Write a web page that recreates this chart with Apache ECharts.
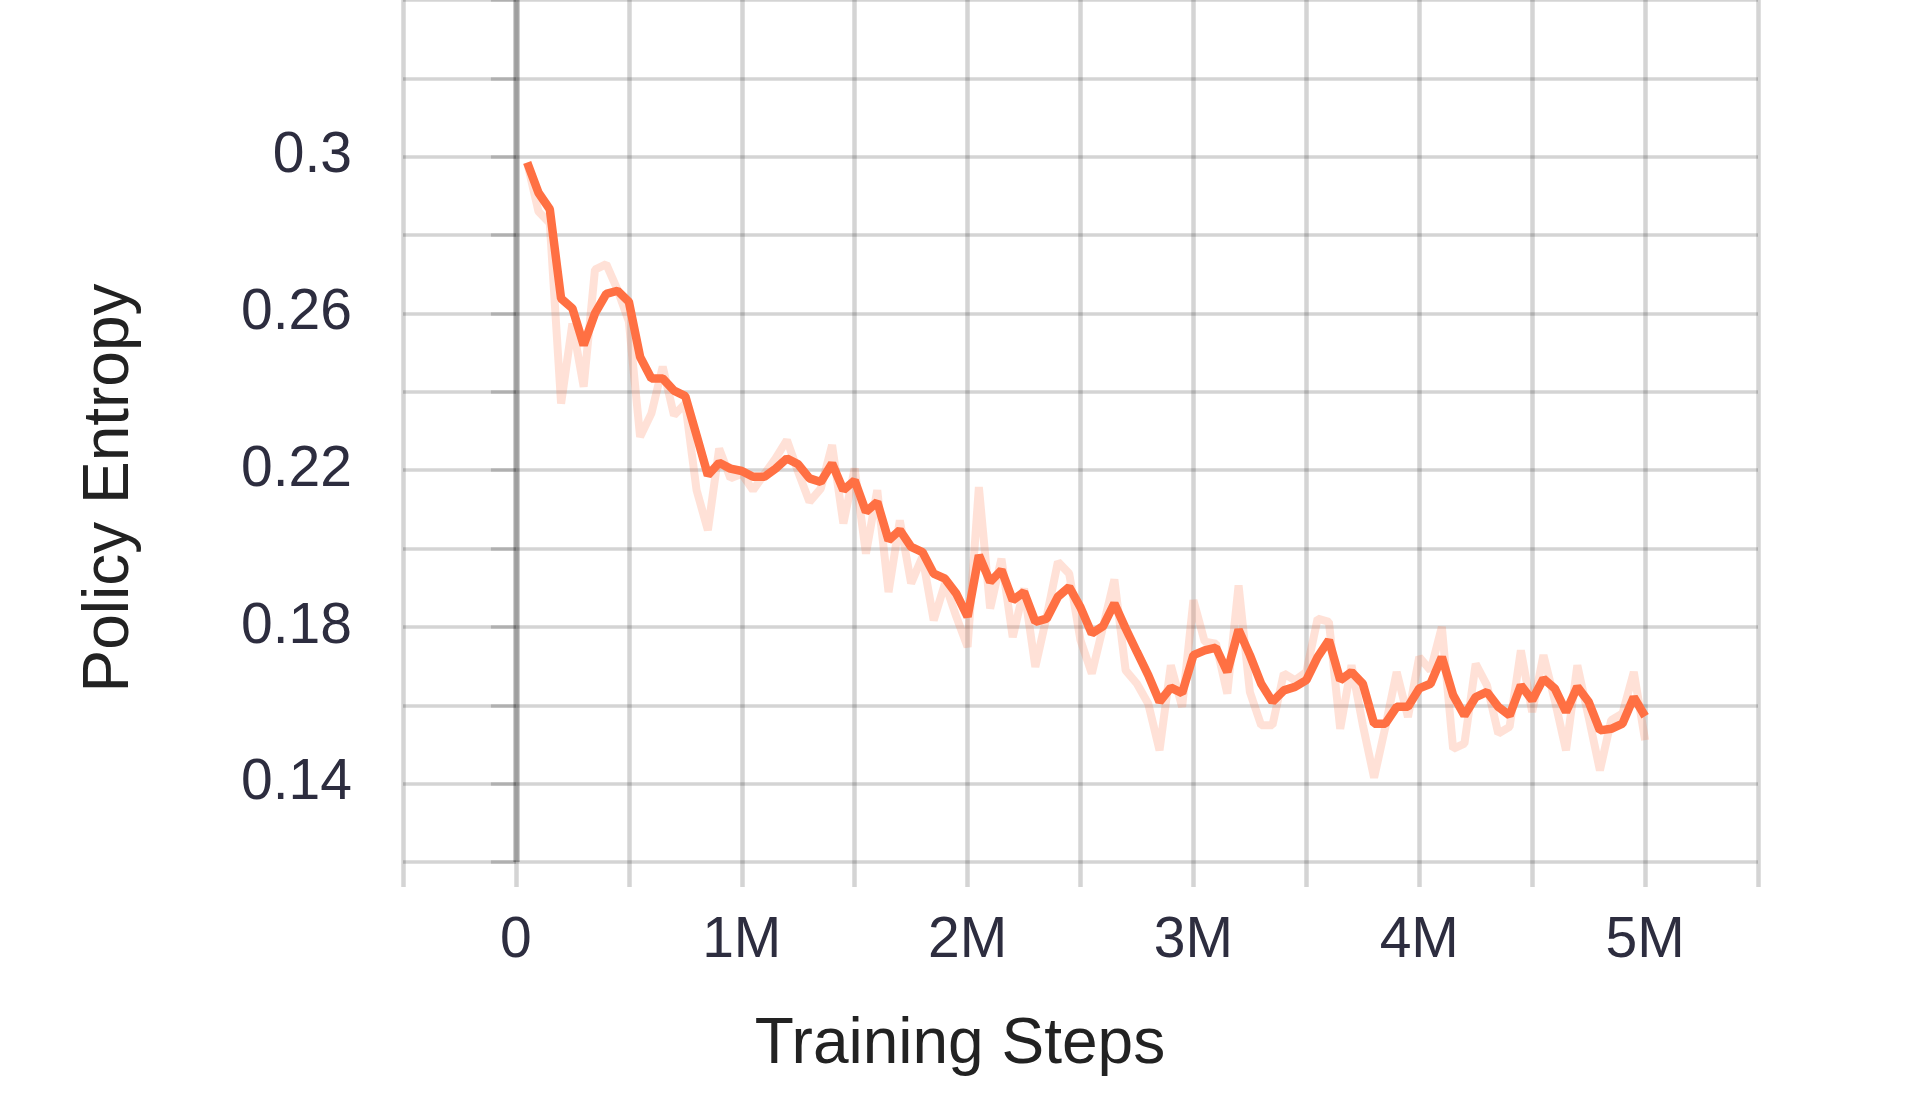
<!DOCTYPE html>
<html>
<head>
<meta charset="utf-8">
<script src="https://cdn.jsdelivr.net/npm/echarts@6/dist/echarts.min.js"></script>
<style>
  html, body { margin: 0; padding: 0; background: #ffffff; }
  #chart { width: 1920px; height: 1120px; }
</style>
</head>
<body>
<div id="chart"></div>
<script>
// Training steps (in millions)
const steps = [
  0.05, 0.10, 0.15, 0.20, 0.25, 0.30, 0.35, 0.40, 0.45, 0.50,
  0.55, 0.60, 0.65, 0.70, 0.75, 0.80, 0.85, 0.90, 0.95, 1.00,
  1.05, 1.10, 1.15, 1.20, 1.25, 1.30, 1.35, 1.40, 1.45, 1.50,
  1.55, 1.60, 1.65, 1.70, 1.75, 1.80, 1.85, 1.90, 1.95, 2.00,
  2.05, 2.10, 2.15, 2.20, 2.25, 2.30, 2.35, 2.40, 2.45, 2.50,
  2.55, 2.60, 2.65, 2.70, 2.75, 2.80, 2.85, 2.90, 2.95, 3.00,
  3.05, 3.10, 3.15, 3.20, 3.25, 3.30, 3.35, 3.40, 3.45, 3.50,
  3.55, 3.60, 3.65, 3.70, 3.75, 3.80, 3.85, 3.90, 3.95, 4.00,
  4.05, 4.10, 4.15, 4.20, 4.25, 4.30, 4.35, 4.40, 4.45, 4.50,
  4.55, 4.60, 4.65, 4.70, 4.75, 4.80, 4.85, 4.90, 4.95, 5.00
];

// Raw policy entropy (faint line)
const rawEntropy = [
  0.2985, 0.2860, 0.2830, 0.2370, 0.2574, 0.2413, 0.2712, 0.2726, 0.2660, 0.2580,
  0.2285, 0.2345, 0.2464, 0.2340, 0.2370, 0.2149, 0.2047, 0.2255, 0.2179, 0.2191,
  0.2149, 0.2190, 0.2230, 0.2277, 0.2195, 0.2119, 0.2153, 0.2264, 0.2064, 0.2204,
  0.1987, 0.2149, 0.1889, 0.2072, 0.1911, 0.1979, 0.1817, 0.1911, 0.1826, 0.1749,
  0.2157, 0.1847, 0.1974, 0.1774, 0.1898, 0.1698, 0.1826, 0.1966, 0.1936, 0.1766,
  0.1681, 0.1800, 0.1921, 0.1689, 0.1655, 0.1604, 0.1485, 0.1702, 0.1596, 0.1868,
  0.1762, 0.1757, 0.1630, 0.1906, 0.1634, 0.1549, 0.1549, 0.1681, 0.1664, 0.1685,
  0.1821, 0.1813, 0.1540, 0.1702, 0.1550, 0.1415, 0.1545, 0.1685, 0.1570, 0.1723,
  0.1689, 0.1800, 0.1489, 0.1502, 0.1706, 0.1651, 0.1528, 0.1545, 0.1740, 0.1583,
  0.1728, 0.1613, 0.1485, 0.1702, 0.1570, 0.1434, 0.1562, 0.1579, 0.1685, 0.1511
];

// Smoothed policy entropy (bold line)
const smoothEntropy = [
  0.2985, 0.2908, 0.2866, 0.2638, 0.2613, 0.2519, 0.2600, 0.2650, 0.2658, 0.2630,
  0.2489, 0.2434, 0.2434, 0.2403, 0.2389, 0.2289, 0.2187, 0.2219, 0.2204, 0.2198,
  0.2183, 0.2183, 0.2204, 0.2230, 0.2215, 0.2179, 0.2170, 0.2217, 0.2149, 0.2174,
  0.2094, 0.2119, 0.2021, 0.2047, 0.2004, 0.1991, 0.1936, 0.1923, 0.1885, 0.1826,
  0.1983, 0.1915, 0.1945, 0.1868, 0.1889, 0.1813, 0.1821, 0.1877, 0.1902, 0.1850,
  0.1783, 0.1802, 0.1860, 0.1796, 0.1736, 0.1677, 0.1609, 0.1645, 0.1631, 0.1728,
  0.1740, 0.1747, 0.1685, 0.1793, 0.1728, 0.1655, 0.1609, 0.1638, 0.1647, 0.1664,
  0.1723, 0.1766, 0.1664, 0.1685, 0.1655, 0.1553, 0.1553, 0.1596, 0.1596, 0.1643,
  0.1655, 0.1723, 0.1626, 0.1574, 0.1621, 0.1634, 0.1596, 0.1574, 0.1651, 0.1613,
  0.1668, 0.1643, 0.1583, 0.1647, 0.1609, 0.1536, 0.1540, 0.1553, 0.1621, 0.1572
];

// Tick labels
const xTickLabels = ['0', '1M', '2M', '3M', '4M', '5M'];
const yTickLabels = ['0.14', '0.18', '0.22', '0.26', '0.3'];

const xAxisTitle = 'Training Steps';
const yAxisTitle = 'Policy Entropy';

const FONT = '"Liberation Sans", Arial, Helvetica, sans-serif';
const ORANGE = '#FF7043';
const GRID_COLOR = 'rgba(0,0,0,0.17)';

const rawData = steps.map((s, i) => [s, rawEntropy[i]]);
const smoothData = steps.map((s, i) => [s, smoothEntropy[i]]);

const chart = echarts.init(document.getElementById('chart'), null, { renderer: 'canvas' });

chart.setOption({
  animation: false,
  backgroundColor: '#ffffff',
  grid: { left: 403, right: 162, top: 0, bottom: 258, containLabel: false },
  xAxis: {
    type: 'value',
    min: -0.5,
    max: 5.5,
    interval: 0.5,
    axisLine: { show: false },
    axisTick: { show: true, length: 25, lineStyle: { color: GRID_COLOR, width: 4.5 } },
    splitLine: { show: true, lineStyle: { color: GRID_COLOR, width: 4.5 } },
    axisLabel: {
      margin: 51,
      fontSize: 57,
      fontFamily: FONT,
      color: '#2d2d3f',
      formatter: function (v) {
        const r = Math.round(v * 2);
        if (r % 2 !== 0 || r < 0) return '';
        const lbl = xTickLabels[r / 2];
        return lbl === undefined ? '' : lbl;
      }
    }
  },
  yAxis: {
    type: 'value',
    min: 0.12,
    max: 0.34,
    interval: 0.02,
    axisLine: { show: false },
    axisTick: { show: true, length: 25, lineStyle: { color: GRID_COLOR, width: 3.5 } },
    splitLine: { show: true, lineStyle: { color: GRID_COLOR, width: 3.5 } },
    axisLabel: {
      margin: 51,
      fontSize: 57,
      fontFamily: FONT,
      color: '#2d2d3f',
      formatter: function (v) {
        const s = String(+v.toFixed(2));
        return yTickLabels.indexOf(s) >= 0 ? s : '';
      }
    }
  },
  graphic: [
    {
      type: 'text',
      x: 960, y: 1045,
      style: { text: xAxisTitle, fontSize: 64, fontFamily: FONT, fill: '#222222', align: 'center', verticalAlign: 'middle' }
    },
    {
      type: 'text',
      x: 110, y: 488,
      rotation: Math.PI / 2,
      style: { text: yAxisTitle, fontSize: 64, fontFamily: FONT, fill: '#222222', align: 'center', verticalAlign: 'middle' }
    }
  ],
  series: [
    {
      name: 'raw',
      type: 'line',
      data: rawData,
      showSymbol: false,
      symbol: 'none',
      lineStyle: { color: ORANGE, width: 8, opacity: 0.21 },
      z: 2,
      markLine: {
        silent: true,
        symbol: 'none',
        label: { show: false },
        lineStyle: { color: 'rgba(0,0,0,0.25)', width: 6.5, type: 'solid' },
        data: [{ xAxis: 0 }]
      }
    },
    {
      name: 'smoothed',
      type: 'line',
      data: smoothData,
      showSymbol: false,
      symbol: 'none',
      lineStyle: { color: ORANGE, width: 8.5 },
      z: 3
    }
  ]
});
</script>
</body>
</html>
